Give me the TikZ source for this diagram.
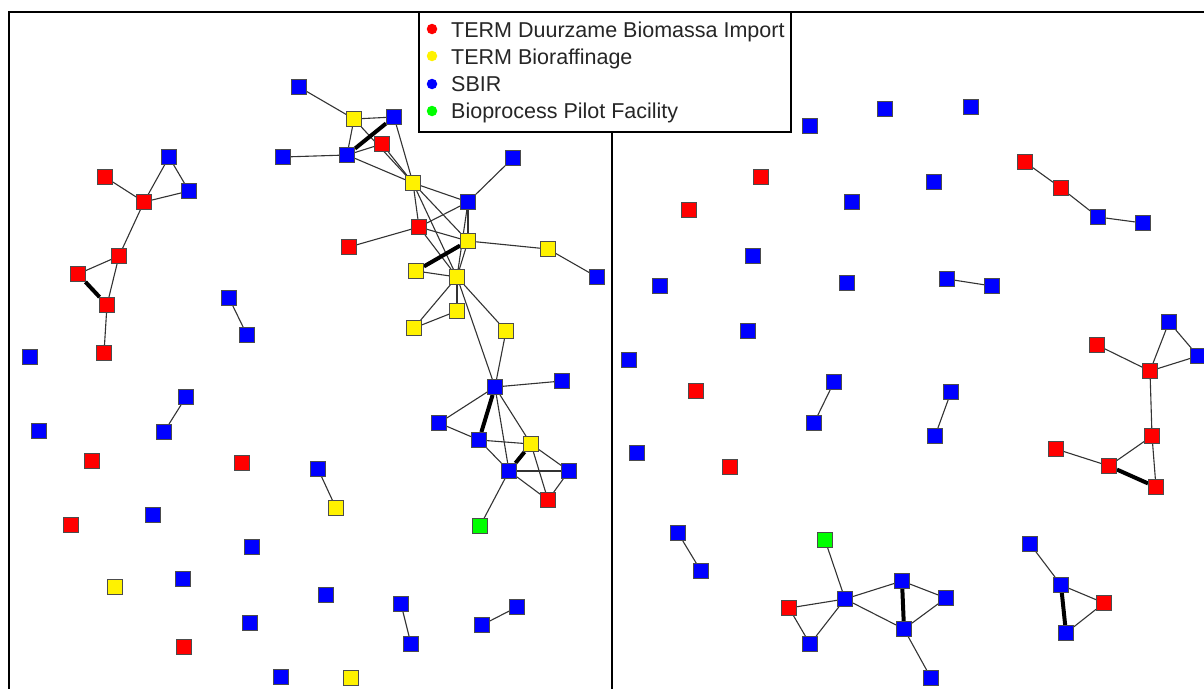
\documentclass[tikz,border=0pt]{standalone}
\usepackage{fontspec}
\setmainfont{Liberation Sans}
\usetikzlibrary{backgrounds}
\begin{document}
\begin{tikzpicture}[x=1pt,y=-1pt,
  nd/.style={rectangle,draw=black!70,line width=0.9pt,minimum size=15pt,inner sep=0pt},
  rn/.style={nd,fill=red},
  yn/.style={nd,fill=yellow},
  bn/.style={nd,fill=blue},
  gn/.style={nd,fill=green},
  ed/.style={draw=black!80,line width=1.1pt},
  thk/.style={draw=black,line width=4pt},
  frame/.style={draw=black,line width=1.8pt},
  legtext/.style={anchor=base west,inner sep=0pt,text=black!85,font=\fontsize{21.5}{26}\selectfont},
  legdot/.style={circle,inner sep=0pt,minimum size=10.5pt}]
\useasboundingbox (0,0) rectangle (1204,688);
% frames
\draw[frame] (9,690) -- (9,12) -- (1206,12);
\draw[frame] (612,12) -- (612,690);
% ---------------- left panel nodes
\node[bn] (a1) at (299,87) {};
\node[yn] (a2) at (354,119) {};
\node[bn] (a3) at (394,117) {};
\node[rn] (a4) at (382,144) {};
\node[bn] (a5) at (347,155) {};
\node[bn] (a6) at (283,157) {};
\node[yn] (a7) at (413,183) {};
\node[bn] (a8) at (513,158) {};
\node[bn] (a9) at (468,202) {};
\node[rn] (a10) at (419,227) {};
\node[rn] (a11) at (349,247) {};
\node[yn] (a12) at (468,241) {};
\node[yn] (a13) at (548,249) {};
\node[bn] (a14) at (597,277) {};
\node[yn] (a15) at (416,271) {};
\node[yn] (a16) at (457,277) {};
\node[yn] (a17) at (457,311) {};
\node[yn] (a18) at (414,328) {};
\node[yn] (a19) at (506,331) {};
\node[bn] (b1) at (495,387) {};
\node[bn] (b2) at (562,381) {};
\node[bn] (b3) at (439,423) {};
\node[bn] (b4) at (479,440) {};
\node[yn] (b5) at (531,444) {};
\node[bn] (b6) at (509,471) {};
\node[bn] (b7) at (569,471) {};
\node[rn] (b8) at (548,500) {};
\node[gn] (b9) at (480,526) {};
\node[rn] (c1) at (105,177) {};
\node[bn] (c2) at (169,157) {};
\node[bn] (c3) at (189,191) {};
\node[rn] (c4) at (144,202) {};
\node[rn] (c5) at (119,256) {};
\node[rn] (c6) at (78,274) {};
\node[rn] (c7) at (107,305) {};
\node[rn] (c8) at (104,353) {};
\node[bn] (d1) at (30,357) {};
\node[bn] (d2) at (229,298) {};
\node[bn] (d3) at (247,335) {};
\node[bn] (d4) at (186,397) {};
\node[bn] (d5) at (164,432) {};
\node[bn] (d6) at (39,431) {};
\node[rn] (d7) at (92,461) {};
\node[rn] (d8) at (242,463) {};
\node[bn] (d9) at (318,469) {};
\node[yn] (d10) at (336,508) {};
\node[rn] (d11) at (71,525) {};
\node[bn] (d12) at (153,515) {};
\node[bn] (d13) at (252,547) {};
\node[yn] (d14) at (115,587) {};
\node[bn] (d15) at (183,579) {};
\node[bn] (d16) at (326,595) {};
\node[bn] (d17) at (401,604) {};
\node[bn] (d18) at (411,644) {};
\node[bn] (d19) at (250,623) {};
\node[rn] (d20) at (184,647) {};
\node[bn] (d21) at (281,677) {};
\node[yn] (d22) at (351,678) {};
\node[bn] (d23) at (517,607) {};
\node[bn] (d24) at (482,625) {};
% ---------------- right panel nodes
\node[rn] (e1) at (689,210) {};
\node[rn] (e2) at (761,177) {};
\node[bn] (e3) at (810,126) {};
\node[bn] (e4) at (885,109) {};
\node[bn] (e5) at (971,107) {};
\node[bn] (e6) at (852,202) {};
\node[bn] (e7) at (934,182) {};
\node[rn] (e8) at (1025,162) {};
\node[rn] (e9) at (1061,188) {};
\node[bn] (e10) at (1098,217) {};
\node[bn] (e11) at (1143,223) {};
\node[bn] (e12) at (753,256) {};
\node[bn] (e13) at (660,286) {};
\node[bn] (e14) at (847,283) {};
\node[bn] (e15) at (947,279) {};
\node[bn] (e16) at (992,286) {};
\node[bn] (e17) at (748,331) {};
\node[bn] (e18) at (629,360) {};
\node[rn] (e19) at (696,391) {};
\node[bn] (e20) at (834,382) {};
\node[bn] (e21) at (814,423) {};
\node[bn] (e22) at (951,392) {};
\node[bn] (e23) at (935,436) {};
\node[bn] (e24) at (637,453) {};
\node[rn] (e25) at (730,467) {};
\node[bn] (f1) at (1169,322) {};
\node[rn] (f2) at (1097,345) {};
\node[bn] (f3) at (1198,356) {};
\node[rn] (f4) at (1150,371) {};
\node[rn] (f5) at (1152,436) {};
\node[rn] (f6) at (1056,449) {};
\node[rn] (f7) at (1109,466) {};
\node[rn] (f8) at (1156,487) {};
\node[bn] (g1) at (678,533) {};
\node[bn] (g2) at (701,571) {};
\node[gn] (g3) at (825,540) {};
\node[bn] (g4) at (845,599) {};
\node[rn] (g5) at (789,608) {};
\node[bn] (g6) at (810,644) {};
\node[bn] (g7) at (902,581) {};
\node[bn] (g8) at (946,598) {};
\node[bn] (g9) at (904,629) {};
\node[bn] (g10) at (931,678) {};
\node[bn] (g11) at (1030,544) {};
\node[bn] (g12) at (1061,585) {};
\node[rn] (g13) at (1104,603) {};
\node[bn] (g14) at (1066,633) {};
% ---------------- edges
\begin{scope}[on background layer]
\foreach \u/\v in {a1/a2,a2/a3,a2/a5,a2/a7,a4/a7,a3/a7,a5/a4,a6/a5,a5/a7,a7/a9,a8/a9,a7/a10,a7/a12,a7/a16,a9/a10,a9/a12,a9/a16,a10/a11,a10/a12,a10/a16,a12/a13,a13/a14,a15/a16,a12/a16,a16/a17,a17/a18,a16/a18,a16/a19,a16/b1,a19/b1,
  b1/b2,b1/b3,b1/b6,b1/b5,b3/b4,b4/b5,b4/b6,b5/b7,b5/b8,b6/b7,b6/b8,b7/b8,b6/b9,
  c1/c4,c4/c2,c4/c3,c2/c3,c4/c5,c5/c6,c5/c7,c7/c8,
  d2/d3,d4/d5,d9/d10,d17/d18,d23/d24,
  e8/e9,e9/e10,e10/e11,e15/e16,e20/e21,e22/e23,
  f1/f4,f1/f3,f2/f4,f4/f3,f4/f5,f5/f7,f5/f8,f6/f7,
  g1/g2,g3/g4,g5/g4,g5/g6,g6/g4,g4/g7,g4/g9,g7/g8,g8/g9,g9/g10,g11/g12,g12/g13,g13/g14}
  \draw[ed] (\u) -- (\v);
\foreach \u/\v in {a3/a5,a12/a15,b1/b4,b5/b6,c6/c7,f7/f8,g7/g9,g12/g14}
  \draw[thk] (\u) -- (\v);
\end{scope}
% ---------------- legend
\draw[frame,fill=white] (419,12) rectangle (791,132);
\node[legdot,fill=red] (l1) at (432,29) {};
\node[legdot,fill=yellow] (l2) at (432,56) {};
\node[legdot,fill=blue] (l3) at (432,84) {};
\node[legdot,fill=green] (l4) at (432,111) {};
\node[legtext] (t1) at (451,37) {TERM Duurzame Biomassa Import};
\node[legtext] (t2) at (451,64) {TERM Bioraffinage};
\node[legtext] (t3) at (451,91.5) {SBIR};
\node[legtext] (t4) at (451,118.5) {Bioprocess Pilot Facility};
\end{tikzpicture}
\end{document}
